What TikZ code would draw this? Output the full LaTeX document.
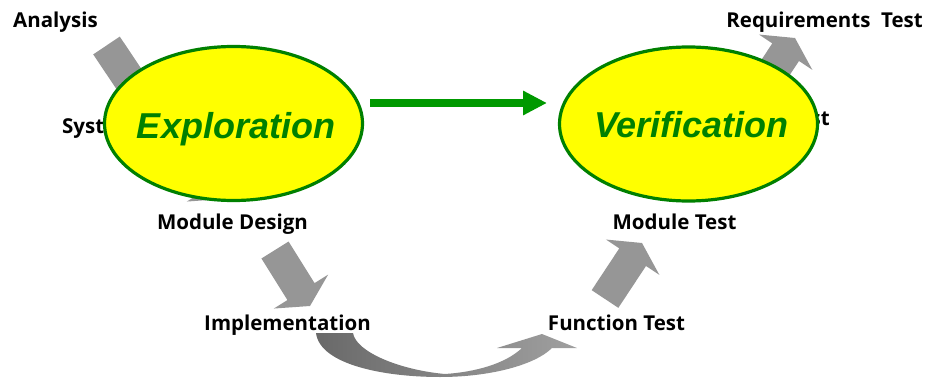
\documentclass[tikz,border=0pt]{standalone}
\usepackage{fontspec}
\setmainfont{Open Sans}
\newfontfamily\ellfont{Liberation Sans}
\usetikzlibrary{calc,arrows.meta,shapes.geometric}
\definecolor{arrowgray}{RGB}{150,150,150}
\definecolor{curvedark}{RGB}{105,105,105}
\definecolor{curvelight}{RGB}{160,160,160}
\definecolor{dkgreen}{RGB}{0,128,0}
\definecolor{brgreen}{RGB}{0,153,0}
\definecolor{ellyellow}{RGB}{255,255,0}
\newcommand\blockarrow[3]{%
  \coordinate (#1h) at ($(#3)!17pt!(#2)$);
  \fill[arrowgray] ($(#2)!16pt!90:(#3)$) -- ($(#1h)!16pt!90:(#3)$) -- ($(#1h)!32pt!90:(#3)$) -- (#3)
    -- ($(#1h)!32pt!-90:(#3)$) -- ($(#1h)!16pt!-90:(#3)$) -- ($(#2)!16pt!-90:(#3)$) -- cycle;}
\tikzset{
  lbl/.style={inner sep=0pt, font=\fontsize{20.5}{24}\selectfont\bfseries, text=black},
  bubble/.style={ellipse, draw=dkgreen, line width=3.2pt, fill=ellyellow, minimum width=258pt, minimum height=154pt, inner sep=0pt},
  bubbletext/.style={inner sep=0pt, anchor=base, text=dkgreen, font=\ellfont\bfseries\itshape\fontsize{36}{40}\selectfont},
  flowarrow/.style={brgreen, line width=8pt, -{Triangle[length=24pt,width=23pt]}}
}
\begin{document}
\begin{tikzpicture}[x=1pt,y=-1pt]
\useasboundingbox (0,0) rectangle (925,377);
% labels hidden behind bubbles
\node[lbl, anchor=base west] (sysdes) at (62,133) {System Design};
\node[lbl, anchor=base east] (systest) at (830,125) {System Test};
% block arrows
\coordinate (a1) at (106.5,45.5); \coordinate (a2) at (143,100);
\coordinate (b1) at (188,143);    \coordinate (b2) at (223,199);
\coordinate (c1) at (275,250);    \coordinate (c2) at (310,306);
\coordinate (d1) at (605,299);    \coordinate (d2) at (642,243);
\coordinate (e1) at (758,94);     \coordinate (e2) at (795,38);
\blockarrow{a}{a1}{a2}
\blockarrow{b}{b1}{b2}
\blockarrow{c}{c1}{c2}
\blockarrow{d}{d1}{d2}
\blockarrow{e}{e1}{e2}
% curved arrow
\shade[left color=curvedark, right color=curvelight]
  (316,333) .. controls (320,365) and (385,377) .. (440,377)
  .. controls (490,377) and (535,365) .. (552,348)
  -- (577,348) -- (542,334) -- (497,348) -- (522,348)
  .. controls (505,364) and (475,372) .. (445,374)
  .. controls (400,370) and (356,352) .. (353,333) -- cycle;
% bubbles
\node[bubble] (expl) at (233.5,123.5) {};
\node[bubble] (verif) at (688.5,124) {};
\node[bubbletext] (expltext) at (236,138) {Exploration};
\node[bubbletext] (veriftext) at (691.5,137) {Verification};
% green arrow
\coordinate (g1) at (370,103); \coordinate (g2) at (547,103);
\draw[flowarrow] (g1) -- (g2);
% visible labels
\node[lbl, anchor=base west] (analysis) at (13,28) {Analysis};
\node[lbl, anchor=base east] (reqtest) at (923,28) {Requirements\ \ Test};
\node[lbl, anchor=base] (moddes) at (232.5,229) {Module Design};
\node[lbl, anchor=base] (modtest) at (674.5,229) {Module Test};
\node[lbl, anchor=base] (impl) at (287.5,330) {Implementation};
\node[lbl, anchor=base] (functest) at (616.5,330) {Function Test};
\end{tikzpicture}
\end{document}
